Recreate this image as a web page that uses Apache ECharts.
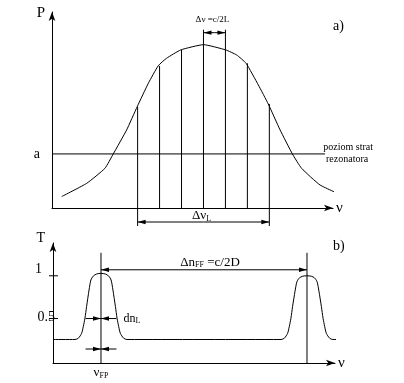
<!DOCTYPE html>
<html><head><meta charset="utf-8">
<script src="https://cdn.jsdelivr.net/npm/echarts@6/dist/echarts.min.js"></script>
<style>html,body{margin:0;padding:0;background:#fff}#c{width:404px;height:383px}</style>
</head><body><div id="c"></div>
<script>
// ---------- Panel a): gain curve P(ν), ν in units of the mode spacing Δν = c/2L ----------
const gainNu = [-6.46,-5.32,-4.49,-4.11,-3.50,-3.02,-2.51,-2.06,-1.68,-1.03,0,1.01,1.51,1.94,2.50,2.95,3.49,4.05,4.47,5.31,6.45];
const gainP  = [0.07,0.151,0.243,0.331,0.478,0.620,0.764,0.871,0.917,0.968,1.0,0.968,0.937,0.886,0.753,0.637,0.478,0.331,0.243,0.141,0.069];
const modeNu = [-3,-2,-1,0,1,2,3];
const modeP  = [0.62,0.87,0.968,1.0,0.968,0.886,0.637];
const lossLevel = 0.331;          // "a" – poziom strat rezonatora
const lossLineNu = [-6.9, 5.54];
const aNuRange = [-6.9, 5.9];
const aPRange = [0, 1.2];

// ---------- Panel b): Fabry–Perot transmission T(ν), ν in units of FSR = c/2D ----------
const fpNu = [-0.233,-0.126,-0.110,-0.094,-0.086,-0.078,-0.070,-0.058,-0.049,-0.037,-0.021,0,0.021,0.037,0.049,0.058,0.070,0.078,0.086,0.094,0.110,0.126,
              0.874,0.890,0.906,0.914,0.922,0.930,0.942,0.951,0.963,0.979,1.0,1.021,1.037,1.049,1.058,1.070,1.078,1.086,1.094,1.110,1.126,1.209];
const fpT  = [0.255,0.255,0.27,0.327,0.405,0.503,0.639,0.834,0.951,0.998,1.021,1.029,1.021,0.998,0.951,0.834,0.639,0.503,0.405,0.327,0.27,0.255,
              0.255,0.27,0.327,0.405,0.503,0.639,0.82,0.93,0.975,0.995,1.0,0.995,0.975,0.93,0.82,0.639,0.503,0.405,0.327,0.27,0.255,0.255];
const fpPeakNu = [0, 1];
const fpHalfWidth = 0.075;
const halfT = 0.5;
const tTicks = [0.5, 1];
const tTickLabels = ['0.5', '1'];
const bNuRange = [-0.233, 1.136];
const bTRange = [-0.02, 1.3835];

const FONT = '"Liberation Serif", "Times New Roman", serif';
const BLACK = '#000';

function seg(x1, y1, x2, y2, w) {
  return { type: 'line', shape: { x1, y1, x2, y2 }, style: { stroke: BLACK, lineWidth: w || 1 } };
}
function arrow(x1, y1, x2, y2) {   // line with filled head at (x2,y2)
  const dx = x2 - x1, dy = y2 - y1, len = Math.hypot(dx, dy) || 1;
  const ux = dx / len, uy = dy / len, L = 8, W = 2.2;
  const bx = x2 - ux * L, by = y2 - uy * L;
  return [seg(x1, y1, x2, y2),
    { type: 'polygon', shape: { points: [[x2, y2], [bx - uy * W, by + ux * W], [bx + uy * W, by - ux * W]] }, style: { fill: BLACK } }];
}
function txt(x, y, text, size, align) {
  return { type: 'text', style: { text, x, y, fill: BLACK, font: size + 'px ' + FONT, align: align || 'center', verticalAlign: 'middle' } };
}
function richSet(big, small) {
  return {
    n: { fontFamily: FONT, fontSize: big, fill: BLACK, verticalAlign: 'bottom', lineHeight: big },
    s: { fontFamily: FONT, fontSize: small, fill: BLACK, verticalAlign: 'bottom', lineHeight: big }
  };
}

function renderA(params, api) {
  const ch = [];
  const zeroY = api.coord([0, 0])[1];
  modeNu.forEach((n, i) => {
    const a = api.coord([n, 0]), b = api.coord([n, modeP[i]]);
    ch.push(seg(a[0], a[1], b[0], b[1]));
  });
  // ΔνL bracket below the axis
  const l = api.coord([modeNu[0], 0])[0], r = api.coord([modeNu[modeNu.length - 1], 0])[0];
  ch.push(seg(l, zeroY, l, zeroY + 18), seg(r, zeroY, r, zeroY + 18));
  const mid = (l + r) / 2;
  ch.push(...arrow(mid, zeroY + 14, l, zeroY + 14), ...arrow(mid, zeroY + 14, r, zeroY + 14));
  ch.push({ type: 'text', style: { text: '{n|Δν}{s|L}', x: mid - 2, y: zeroY + 8, align: 'center', verticalAlign: 'middle', rich: richSet(13, 8) } });
  // Δν = c/2L bracket above the central modes
  const c0 = api.coord([modeNu[3], modeP[3]]), c1 = api.coord([modeNu[4], modeP[4]]);
  const topY = api.coord([0, 1])[1];
  ch.push(seg(c0[0], c0[1], c0[0], topY - 15), seg(c1[0], c1[1], c1[0], topY - 15));
  const cm = (c0[0] + c1[0]) / 2;
  ch.push(...arrow(cm, topY - 12, c0[0], topY - 12), ...arrow(cm, topY - 12, c1[0], topY - 12));
  ch.push(txt(cm - 2, topY - 25, 'Δν =c/2L', 9));
  // loss level label
  const le = api.coord([lossLineNu[1], lossLevel]);
  ch.push(txt(le[0] + 23, le[1] - 7, 'poziom strat', 10), txt(le[0] + 22, le[1] + 5, 'rezonatora', 10));
  return { type: 'group', children: ch };
}

function renderB(params, api) {
  const ch = [];
  const axisY = api.coord([0, bTRange[0]])[1];
  const axisX = api.coord([bNuRange[0], 0])[0];
  const oneY = api.coord([0, 1])[1];
  fpPeakNu.forEach(n => {
    const a = api.coord([n, bTRange[0]]);
    ch.push(seg(a[0], a[1], a[0], oneY - 23));
  });
  // Δn_FF arrow between peaks
  const p0 = api.coord([fpPeakNu[0], 1])[0], p1 = api.coord([fpPeakNu[1], 1])[0];
  const pm = (p0 + p1) / 2;
  ch.push(...arrow(pm, oneY - 6, p0, oneY - 6), ...arrow(pm, oneY - 6, p1, oneY - 6));
  ch.push({ type: 'text', style: { text: '{n|Δn}{s|FF}{n| =c/2D}', x: pm + 6, y: oneY - 13, align: 'center', verticalAlign: 'middle', rich: richSet(13, 8) } });
  // dn_L at half maximum
  const hL = api.coord([fpPeakNu[0] - fpHalfWidth, halfT]), hR = api.coord([fpPeakNu[0] + fpHalfWidth, halfT]);
  ch.push(...arrow(hL[0], hL[1], p0, hL[1]), ...arrow(hR[0], hR[1], p0, hR[1]));
  ch.push({ type: 'text', style: { text: '{n|dn}{s|L}', x: hR[0] + 7, y: hR[1], align: 'left', verticalAlign: 'middle', rich: richSet(12, 8) } });
  // ν_FP arrows above the axis
  ch.push(...arrow(hL[0], axisY - 14, p0, axisY - 14), ...arrow(hR[0], axisY - 14, p0, axisY - 14));
  ch.push({ type: 'text', style: { text: '{n|ν}{s|FP}', x: p0, y: axisY + 10, align: 'center', verticalAlign: 'middle', rich: richSet(13, 8) } });
  // T ticks and labels
  const dx = { '0.5': 2, '1': -11 }, dy = { '0.5': -1, '1': -6 };
  tTicks.forEach((t, i) => {
    const y = api.coord([bNuRange[0], t])[1];
    ch.push(seg(axisX - 4, y, axisX + 5, y));
    const lab = tTickLabels[i];
    ch.push(txt(axisX + dx[lab], y + dy[lab], lab, 14, 'right'));
  });
  return { type: 'group', children: ch };
}

const axisLineStyle = { show: true, onZero: false, symbol: ['none', 'arrow'], symbolSize: [5, 9], lineStyle: { color: BLACK, width: 1 } };
const hidden = { axisTick: { show: false }, axisLabel: { show: false }, splitLine: { show: false } };
const nuName = { name: 'ν', nameLocation: 'end', nameGap: 3, nameTextStyle: { fontFamily: FONT, fontSize: 15, color: BLACK, verticalAlign: 'middle', padding: [0, 0, 3, 0] } };

const chart = echarts.init(document.getElementById('c'), null, { renderer: 'canvas' });
chart.setOption({
  animation: false,
  backgroundColor: '#fff',
  grid: [
    { left: 52, right: 71, top: 12, bottom: 175 },
    { left: 53, right: 69, top: 243, bottom: 20 }
  ],
  xAxis: [
    Object.assign({ gridIndex: 0, type: 'value', min: aNuRange[0], max: aNuRange[1], axisLine: axisLineStyle }, nuName, hidden),
    Object.assign({ gridIndex: 1, type: 'value', min: bNuRange[0], max: bNuRange[1], axisLine: axisLineStyle }, nuName, hidden)
  ],
  yAxis: [
    { gridIndex: 0, type: 'value', min: aPRange[0], max: aPRange[1], axisLine: axisLineStyle,
      axisTick: { show: false }, splitLine: { show: false },
      axisLabel: { show: true, customValues: [lossLevel], formatter: () => 'a', margin: 12, fontFamily: FONT, fontSize: 14, color: BLACK },
      name: 'P', nameLocation: 'end', nameGap: -1, nameTextStyle: { fontFamily: FONT, fontSize: 15, color: BLACK, align: 'right', verticalAlign: 'middle', padding: [0, 7, 0, 0] } },
    Object.assign({ gridIndex: 1, type: 'value', min: bTRange[0], max: bTRange[1], axisLine: axisLineStyle,
      name: 'T', nameLocation: 'end', nameGap: 5, nameTextStyle: { fontFamily: FONT, fontSize: 14, color: BLACK, align: 'right', verticalAlign: 'middle', padding: [0, 8, 0, 0] } }, hidden)
  ],
  graphic: [
    { type: 'text', left: 333, top: 19, style: { text: 'a)', font: '14px ' + FONT, fill: BLACK } },
    { type: 'text', left: 333, top: 239, style: { text: 'b)', font: '14px ' + FONT, fill: BLACK } }
  ],
  series: [
    { type: 'line', xAxisIndex: 0, yAxisIndex: 0, data: gainNu.map((n, i) => [n, gainP[i]]), smooth: 0.15, showSymbol: false, clip: false,
      lineStyle: { color: BLACK, width: 1 } },
    { type: 'line', xAxisIndex: 0, yAxisIndex: 0, data: lossLineNu.map(n => [n, lossLevel]), showSymbol: false, clip: false,
      lineStyle: { color: BLACK, width: 1 } },
    { type: 'custom', xAxisIndex: 0, yAxisIndex: 0, data: [[0, 0]], renderItem: renderA, clip: false, silent: true },
    { type: 'line', xAxisIndex: 1, yAxisIndex: 1, data: fpNu.map((n, i) => [n, fpT[i]]), smooth: 0.25, showSymbol: false, clip: false,
      lineStyle: { color: BLACK, width: 1 } },
    { type: 'custom', xAxisIndex: 1, yAxisIndex: 1, data: [[0, 0]], renderItem: renderB, clip: false, silent: true }
  ]
});
</script></body></html>
